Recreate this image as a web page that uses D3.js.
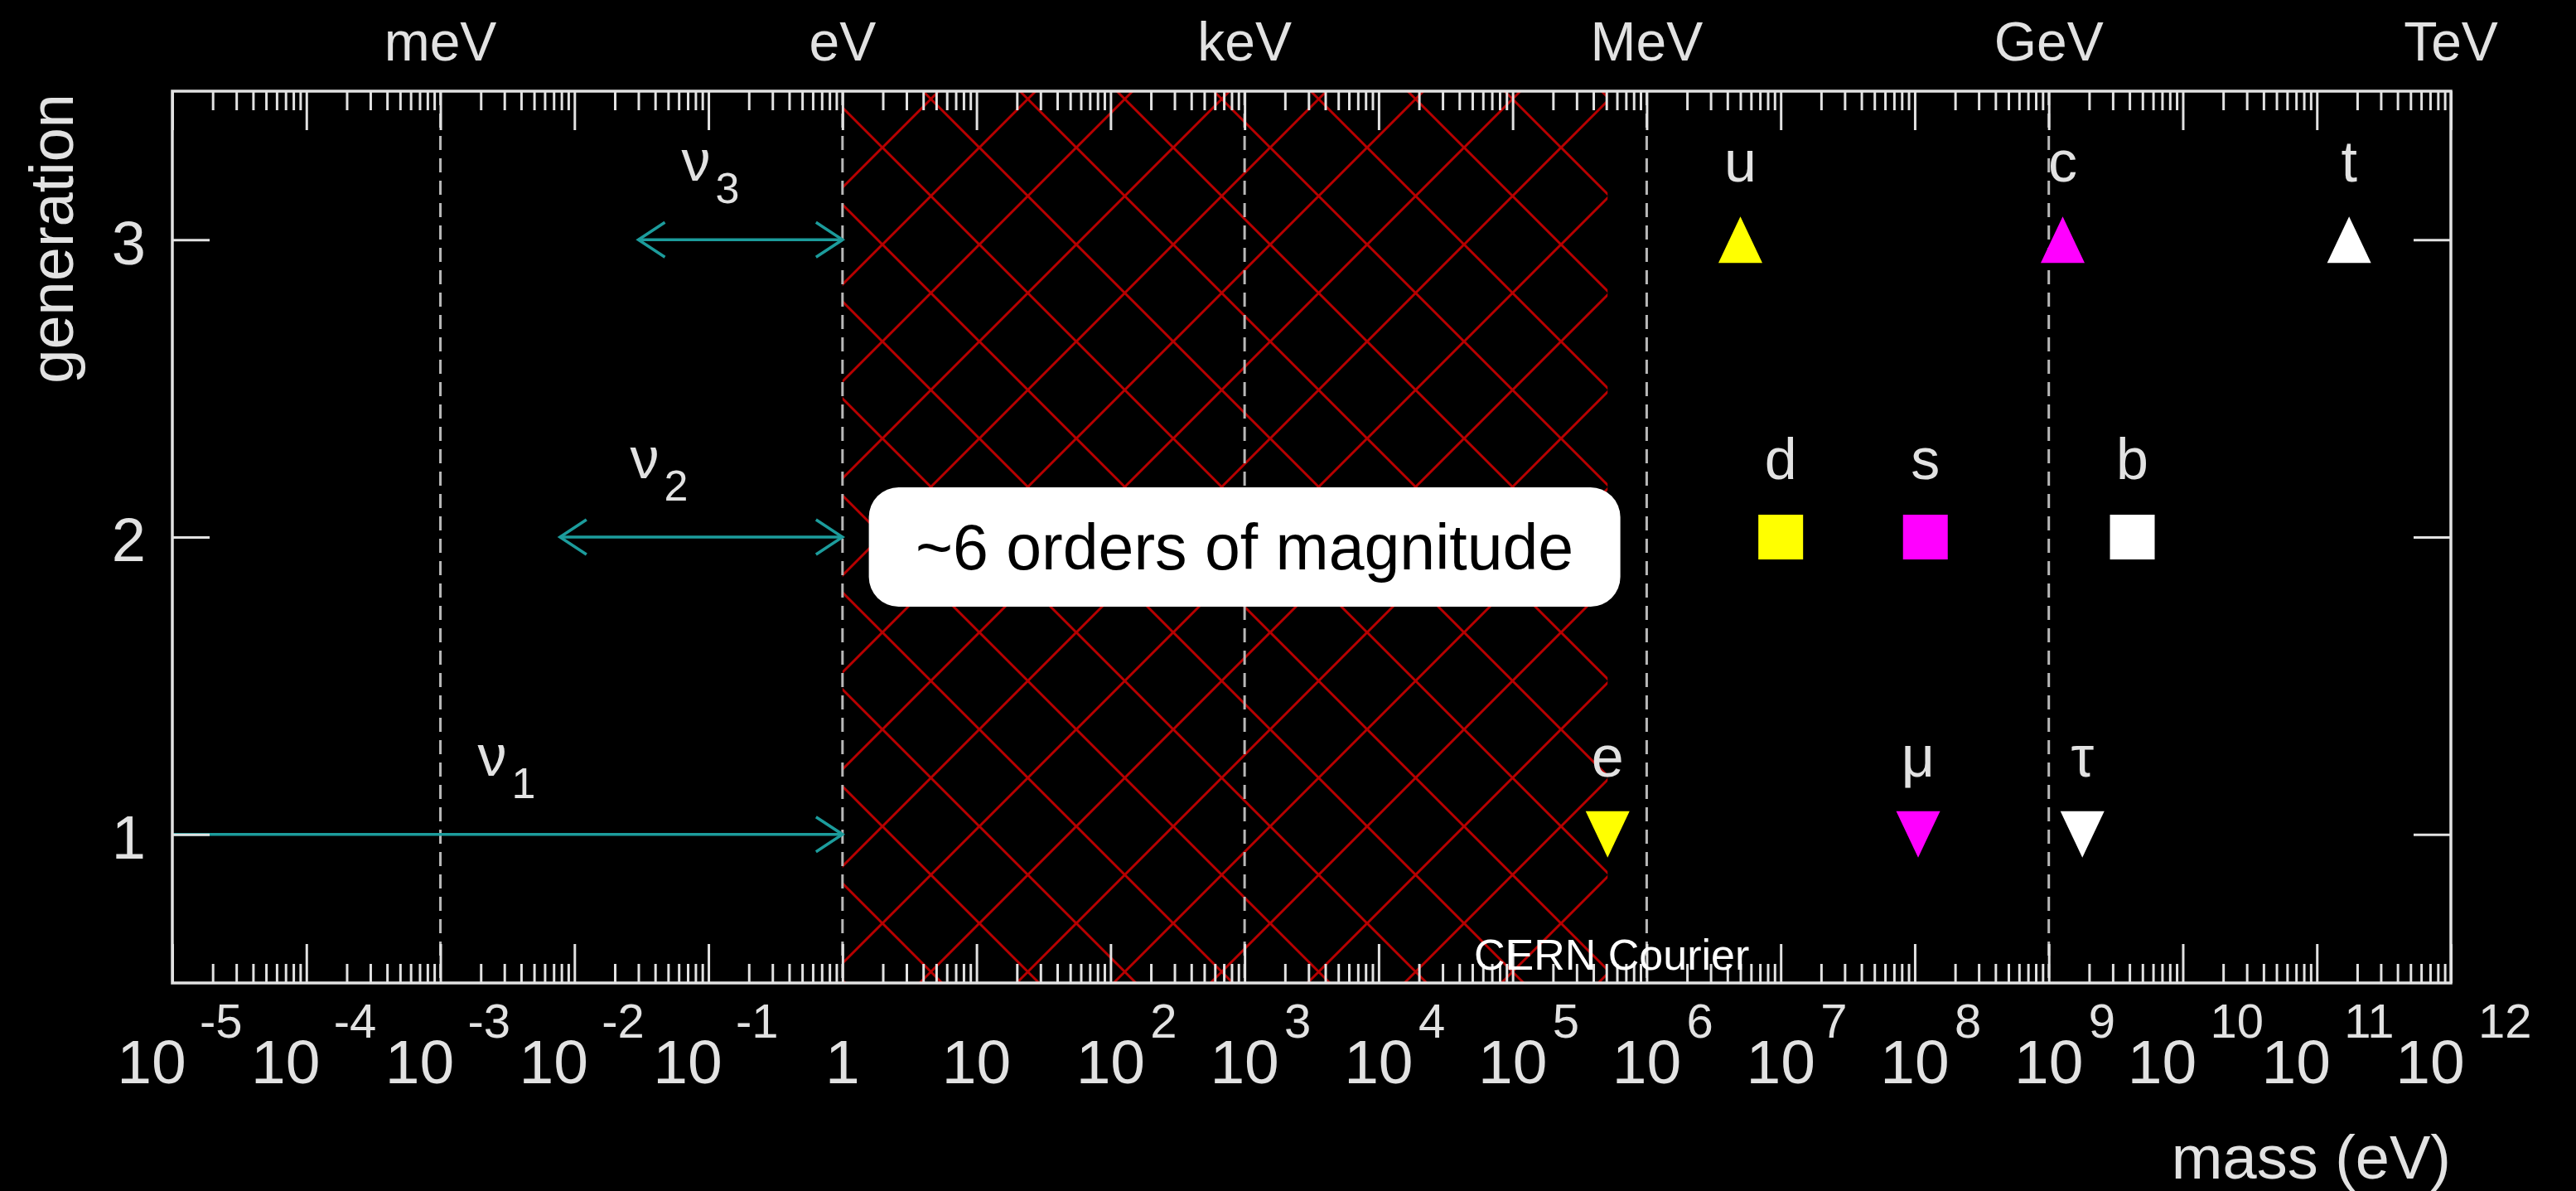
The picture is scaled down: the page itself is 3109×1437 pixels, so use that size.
<!DOCTYPE html>
<html>

<head>
    <meta charset="utf-8">
    <title>Fermion masses</title>
    <script src="https://cdn.jsdelivr.net/npm/d3@7"></script>
    <style>
        body {
            margin: 0;
            background-color: #000;
        }

        svg {
            display: block;
        }

        text {
            font-family: "Liberation Sans", Arial, Helvetica, sans-serif;
        }
    </style>
</head>

<body>
    <svg width="3109" height="1437" id="mainsvg" style="background-color: #000000;"></svg>
    <script>
        // ---- data ----
        const massExponents = [-5, -4, -3, -2, -1, 0, 1, 2, 3, 4, 5, 6, 7, 8, 9, 10, 11, 12];
        const unitLabels = ['meV', 'eV', 'keV', 'MeV', 'GeV', 'TeV'];
        const unitMass = [1e-3, 1, 1e3, 1e6, 1e9, 1e12];
        const generations = [1, 2, 3];

        // charged fermions
        const fermionNames = ['u', 'c', 't', 'd', 's', 'b', 'e', 'μ', 'τ'];
        const fermionMass = [5.0e6, 1.27e9, 1.74e11, 1.0e7, 1.2e8, 4.2e9, 5.11e5, 1.06e8, 1.78e9];
        const fermionRow = [3, 3, 3, 2, 2, 2, 1, 1, 1];
        const fermionFamily = [1, 2, 3, 1, 2, 3, 1, 2, 3];
        const fermionType = ['up', 'up', 'up', 'down', 'down', 'down', 'lepton', 'lepton', 'lepton'];

        // neutrinos: allowed mass ranges (eV)
        const nuSub = ['1', '2', '3'];
        const nuLow = [0, 0.0078, 0.030];
        const nuHigh = [1, 1, 1];
        const nuRow = [1, 2, 3];
        const nuLabelMass = [0.0019, 0.026, 0.063];

        // excluded mass gap (eV), hatched
        const gapRange = [1, 5.11e5];

        // ---- layout ----
        const svg = d3.select('#mainsvg');
        const width = +svg.attr('width');
        const height = +svg.attr('height');
        const margin = { top: 110, right: 151, bottom: 251, left: 208 };
        const x0 = margin.left, x1 = width - margin.right;
        const y0 = margin.top, y1 = height - margin.bottom;

        const fg = '#e2e2e2';
        const teal = '#1c9c9c';
        const familyColor = d3.scaleOrdinal().domain([1, 2, 3]).range(['#ffff00', '#ff00ff', '#ffffff']);

        const xScale = d3.scaleLog().domain([1e-5, 1e12]).range([x0, x1]);
        const yScale = d3.scaleLinear().domain([0.5, 3.5]).range([y1, y0]);

        // hatch pattern (diamond cross-hatch)
        const tile = 117;
        const defs = svg.append('defs');
        const pat = defs.append('pattern')
            .attr('id', 'hatch')
            .attr('patternUnits', 'userSpaceOnUse')
            .attr('x', 1065).attr('y', 178)
            .attr('width', tile).attr('height', tile);
        pat.append('path')
            .attr('d', `M-5,-5L${tile + 5},${tile + 5}M${tile + 5},-5L-5,${tile + 5}`)
            .attr('stroke', '#b80000')
            .attr('stroke-width', 3)
            .attr('fill', 'none');

        defs.append('clipPath').attr('id', 'plotclip')
            .append('rect').attr('x', x0).attr('y', y0).attr('width', x1 - x0).attr('height', y1 - y0);

        const plot = svg.append('g').attr('clip-path', 'url(#plotclip)');

        plot.append('rect')
            .attr('x', xScale(gapRange[0]))
            .attr('y', y0)
            .attr('width', xScale(gapRange[1]) - xScale(gapRange[0]))
            .attr('height', y1 - y0)
            .attr('fill', 'url(#hatch)');

        // dashed unit lines
        plot.selectAll('.unitline').data(unitMass.filter(d => d < 1e12)).join('line')
            .attr('class', 'unitline')
            .attr('x1', d => xScale(d)).attr('x2', d => xScale(d))
            .attr('y1', y0).attr('y2', y1)
            .attr('stroke', '#b8b8b8')
            .attr('stroke-width', 3)
            .attr('stroke-dasharray', '17,10');

        // neutrino arrows
        const nu = nuSub.map((s, i) => ({ sub: s, low: nuLow[i], high: nuHigh[i], row: nuRow[i], lab: nuLabelMass[i] }));
        const head = (xt, yt, dir) => `M${xt - dir * 32},${yt - 21}L${xt},${yt}L${xt - dir * 32},${yt + 21}`;
        const nuG = plot.selectAll('.nu').data(nu).join('g').attr('class', 'nu');
        nuG.append('line')
            .attr('x1', d => d.low > 0 ? xScale(d.low) : x0)
            .attr('x2', d => xScale(d.high))
            .attr('y1', d => yScale(d.row)).attr('y2', d => yScale(d.row))
            .attr('stroke', teal).attr('stroke-width', 3.5);
        nuG.append('path')
            .attr('d', d => head(xScale(d.high), yScale(d.row), 1))
            .attr('stroke', teal).attr('stroke-width', 3.5).attr('fill', 'none');
        nuG.filter(d => d.low > 0).append('path')
            .attr('d', d => head(xScale(d.low), yScale(d.row), -1))
            .attr('stroke', teal).attr('stroke-width', 3.5).attr('fill', 'none');

        // neutrino labels
        const nuText = svg.selectAll('.nulabel').data(nu).join('text')
            .attr('class', 'nulabel')
            .attr('x', d => xScale(d.lab))
            .attr('y', d => yScale(d.row) - 71)
            .attr('fill', fg)
            .attr('font-size', 70);
        nuText.append('tspan').text('ν');
        nuText.append('tspan').attr('dx', 6).attr('dy', 27).attr('font-size', 52).text(d => d.sub);

        // charged fermion markers
        const fermions = fermionNames.map((n, i) => ({
            name: n, mass: fermionMass[i], row: fermionRow[i], fam: fermionFamily[i], type: fermionType[i]
        }));
        const tw = 26.5, th = 28, sq = 27;
        const shape = t => t === 'up' ? `M0,${-th}L${tw},${th}L${-tw},${th}Z`
            : t === 'lepton' ? `M0,${th}L${tw},${-th}L${-tw},${-th}Z`
                : `M${-sq},${-sq}H${sq}V${sq}H${-sq}Z`;
        svg.selectAll('.marker').data(fermions).join('path')
            .attr('class', 'marker')
            .attr('transform', d => `translate(${xScale(d.mass)},${yScale(d.row)})`)
            .attr('d', d => shape(d.type))
            .attr('fill', d => familyColor(d.fam));

        svg.selectAll('.flabel').data(fermions).join('text')
            .attr('class', 'flabel')
            .attr('x', d => xScale(d.mass))
            .attr('y', d => yScale(d.row) - 70)
            .attr('text-anchor', 'middle')
            .attr('fill', fg)
            .attr('font-size', 70)
            .text(d => d.name);

        // ---- axes ----
        const majorTicks = massExponents.map(e => Math.pow(10, e));
        const minorTicks = [];
        massExponents.slice(0, -1).forEach(e => {
            for (let k = 2; k <= 9; k++) minorTicks.push(k * Math.pow(10, e));
        });

        const styleAxis = sel => {
            sel.select('.domain').remove();
            sel.selectAll('line').attr('stroke', fg).attr('stroke-width', 3);
        };

        svg.append('g').attr('transform', `translate(0,${y1})`)
            .call(d3.axisBottom(xScale).tickValues(minorTicks).tickSize(-23).tickFormat(''))
            .call(styleAxis);
        svg.append('g').attr('transform', `translate(0,${y1})`)
            .call(d3.axisBottom(xScale).tickValues(majorTicks).tickSize(-47).tickFormat(''))
            .call(styleAxis);
        svg.append('g').attr('transform', `translate(0,${y0})`)
            .call(d3.axisTop(xScale).tickValues(minorTicks).tickSize(-23).tickFormat(''))
            .call(styleAxis);
        svg.append('g').attr('transform', `translate(0,${y0})`)
            .call(d3.axisTop(xScale).tickValues(majorTicks).tickSize(-47).tickFormat(''))
            .call(styleAxis);

        const yAxisG = svg.append('g').attr('transform', `translate(${x0},0)`)
            .call(d3.axisLeft(yScale).tickValues(generations).tickSize(-45).tickPadding(32).tickFormat(d3.format('d')))
            .call(styleAxis);
        yAxisG.selectAll('text')
            .attr('fill', fg)
            .attr('font-size', 74)
            .attr('font-family', '"Liberation Sans", Arial, sans-serif')
            .attr('dy', '0.39em');
        svg.append('g').attr('transform', `translate(${x1},0)`)
            .call(d3.axisRight(yScale).tickValues(generations).tickSize(-45).tickFormat(''))
            .call(styleAxis);

        // frame
        svg.append('rect')
            .attr('x', x0).attr('y', y0)
            .attr('width', x1 - x0).attr('height', y1 - y0)
            .attr('fill', 'none').attr('stroke', fg).attr('stroke-width', 3.5);

        // bottom tick labels: 10^n
        const xl = svg.selectAll('.xlabel').data(massExponents).join('text')
            .attr('class', 'xlabel')
            .attr('fill', fg)
            .attr('font-size', 75)
            .attr('y', y1 + 121);
        xl.filter(e => e === 0 || e === 1)
            .attr('x', e => xScale(Math.pow(10, e)))
            .attr('text-anchor', 'middle')
            .text(e => e === 0 ? '1' : '10');
        xl.filter(e => e !== 0 && e !== 1).each(function (e) {
            const s = e < 0 ? '-' + Math.abs(e) : String(e);
            const cx = xScale(Math.pow(10, e)) - 25 * (s.length - 1);
            const t = d3.select(this);
            t.append('tspan').attr('x', cx).attr('text-anchor', 'middle').text('10');
            t.append('tspan')
                .attr('x', cx + 48 + 10 * (s.length - 1))
                .attr('dy', -55)
                .attr('font-size', 58)
                .text(s);
        });

        // top unit labels
        svg.selectAll('.unitlabel').data(unitLabels).join('text')
            .attr('class', 'unitlabel')
            .attr('x', (d, i) => xScale(unitMass[i]))
            .attr('y', 73)
            .attr('text-anchor', 'middle')
            .attr('fill', fg)
            .attr('font-size', 66)
            .text(d => d);

        // axis titles
        svg.append('text')
            .attr('x', x1).attr('y', 1422)
            .attr('text-anchor', 'end')
            .attr('fill', fg)
            .attr('font-size', 74)
            .text('mass (eV)');
        svg.append('text')
            .attr('transform', 'translate(88,113) rotate(-90)')
            .attr('text-anchor', 'end')
            .attr('fill', fg)
            .attr('font-size', 74)
            .text('generation');

        // annotation box
        const boxW = 907, boxH = 144;
        const bx = xScale(1e3), by = yScale(2) + 12;
        svg.append('rect')
            .attr('x', bx - boxW / 2).attr('y', by - boxH / 2)
            .attr('width', boxW).attr('height', boxH)
            .attr('rx', 36).attr('ry', 36)
            .attr('fill', '#ffffff');
        svg.append('text')
            .attr('x', bx).attr('y', by + 27)
            .attr('text-anchor', 'middle')
            .attr('fill', '#000000')
            .attr('font-size', 77)
            .text('~6 orders of magnitude');

        // credit
        svg.append('text')
            .attr('x', 1779).attr('y', 1170)
            .attr('fill', '#ffffff')
            .attr('font-size', 52)
            .text('CERN Courier');
    </script>
</body>

</html>
